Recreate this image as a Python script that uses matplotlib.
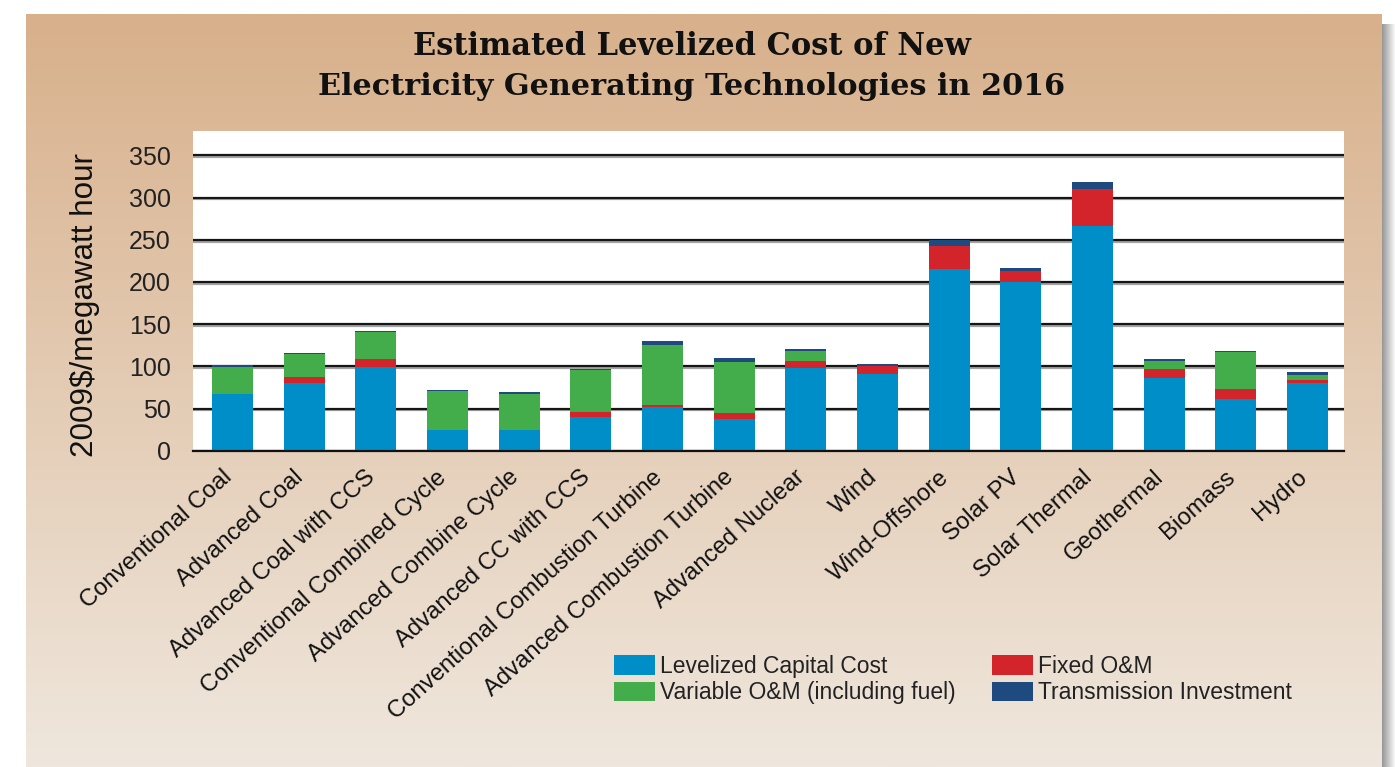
import numpy as np
import matplotlib
matplotlib.use("Agg")
import matplotlib.pyplot as plt
import matplotlib.patheffects as pe
import matplotlib.transforms as mtransforms
from matplotlib.patches import Patch

categories = ['Conventional Coal', 'Advanced Coal', 'Advanced Coal with CCS',
              'Conventional Combined Cycle', 'Advanced Combine Cycle', 'Advanced CC with CCS',
              'Conventional Combustion Turbine', 'Advanced Combustion Turbine', 'Advanced Nuclear',
              'Wind', 'Wind-Offshore', 'Solar PV', 'Solar Thermal', 'Geothermal', 'Biomass', 'Hydro']
capital = [67.3, 80.3, 99.3, 24.6, 24.6, 40.0, 51.8, 37.6, 98.1, 91.0, 215.6, 200.1, 266.5, 86.2, 61.3, 80.3]
fixed_om = [0.0, 7.1, 9.5, 0.0, 0.0, 5.9, 2.4, 7.1, 8.3, 9.5, 27.2, 13.1, 43.9, 10.7, 11.9, 3.6]
variable_om = [32.0, 27.7, 32.0, 46.2, 42.7, 49.8, 71.2, 60.5, 11.9, 0.0, 0.0, 0.0, 0.0, 9.5, 43.9, 5.9]
transmission = [2.4, 1.2, 1.2, 1.2, 2.3, 1.2, 4.7, 4.8, 2.3, 2.3, 7.2, 3.5, 8.3, 2.4, 1.2, 3.6]
series_names = ['Levelized Capital Cost', 'Variable O&M (including fuel)', 'Fixed O&M', 'Transmission Investment']
yticks = [0, 50, 100, 150, 200, 250, 300, 350]

C_BLUE, C_GREEN, C_RED, C_NAVY = '#008EC8', '#42AD4A', '#D3242B', '#1F4A7F'

W, H = 1395, 767
fig = plt.figure(figsize=(W / 100, H / 100), dpi=100)
fig.patch.set_facecolor('white')

# background panel with vertical gradient
bg = fig.add_axes([0, 0, 1, 1], zorder=-5)
bg.axis('off')
top = np.array([216, 176, 139]) / 255
bot = np.array([239, 231, 221]) / 255
t = np.linspace(0, 1, 256)[:, None]
grad = (top[None, :] * (1 - t) + bot[None, :] * t)[:, None, :]
bg.imshow(grad, extent=(26, 1382, 767, 14), aspect='auto', interpolation='bilinear')
# drop shadow at right
sh = np.zeros((1, 40, 4))
sh[..., :3] = 0.45
sh[0, :, 3] = np.linspace(0.75, 0.05, 40)
bg.imshow(sh, extent=(1382, 1395, 767, 24), aspect='auto', interpolation='bilinear')
bg.set_xlim(0, W)
bg.set_ylim(H, 0)

ax = fig.add_axes([193 / W, (767 - 450.7) / H, 1151 / W, 319.7 / H])
ax.set_facecolor('white')
x = np.arange(len(categories))
bw = 0.572
b1 = np.array(capital)
b2 = b1 + np.array(fixed_om)
b3 = b2 + np.array(variable_om)
ax.bar(x, capital, bw, color=C_BLUE, linewidth=0, zorder=3)
ax.bar(x, fixed_om, bw, bottom=b1, color=C_RED, linewidth=0, zorder=3)
ax.bar(x, variable_om, bw, bottom=b2, color=C_GREEN, linewidth=0, zorder=3)
ax.bar(x, transmission, bw, bottom=b3, color=C_NAVY, linewidth=0, zorder=3)

ax.set_xlim(-0.551, 15.51)
ax.set_ylim(0, 379)
ax.set_yticks(yticks)
ax.set_yticklabels([str(v) for v in yticks], fontsize=18, family='Liberation Sans', color='#222222')
ax.yaxis.grid(True, color='#161616', linewidth=1.6,
              path_effects=[pe.SimpleLineShadow(offset=(0, -1.3), shadow_color='#999999', alpha=0.9), pe.Normal()])
ax.set_axisbelow(True)
ax.tick_params(axis='y', length=0, pad=16)
ax.tick_params(axis='x', length=0, pad=9)
for s in ['top', 'left', 'right']:
    ax.spines[s].set_visible(False)
ax.spines['bottom'].set_color('#111111')
ax.spines['bottom'].set_linewidth(1.6)
ax.spines['bottom'].set_zorder(4)
ax.set_xticks(x)
ax.set_xticklabels(categories, rotation=42, ha='right', va='top', rotation_mode='anchor',
                   fontsize=17.2, family='Liberation Sans', color='#111111')
offset = mtransforms.ScaledTranslation(-11 / 100, -3 / 100, fig.dpi_scale_trans)
for lab in ax.get_xticklabels():
    lab.set_transform(lab.get_transform() + offset)

fig.text(85 / W, 1 - 305 / H, '2009$/megawatt hour', rotation=90, ha='center', va='center',
         fontsize=22.6, family='Liberation Sans', color='#111111')

fig.text(692 / W, 1 - 55 / H, 'Estimated Levelized Cost of New', ha='center', va='baseline',
         fontsize=22, family='DejaVu Serif', fontweight='bold', color='#111111')
fig.text(692 / W, 1 - 95 / H, 'Electricity Generating Technologies in 2016', ha='center', va='baseline',
         fontsize=21.8, family='DejaVu Serif', fontweight='bold', color='#111111')

handles = [Patch(facecolor=c, edgecolor='none', label=n)
           for c, n in zip([C_BLUE, C_GREEN, C_RED, C_NAVY], series_names)]
fig.legend(handles=handles, ncol=2, loc='upper left', bbox_to_anchor=(614 / W, 1 - 655 / H),
           frameon=False, prop={'family': 'Liberation Sans', 'size': 16.5},
           handlelength=1.8, handleheight=0.95, handletextpad=0.2, labelspacing=0.15,
           columnspacing=1.6, borderpad=0, borderaxespad=0, labelcolor='#222222')

fig.savefig('out.png', dpi=100)
